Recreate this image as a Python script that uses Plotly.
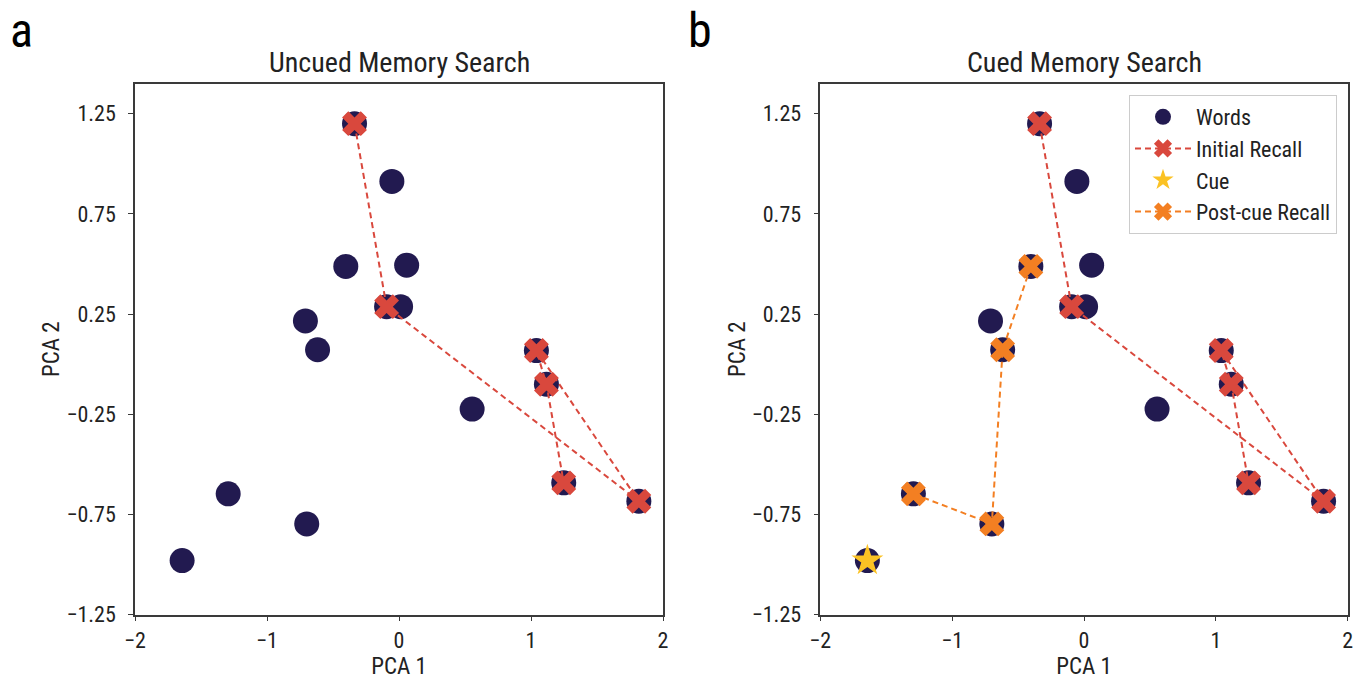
import plotly.graph_objects as go

# ---- data ----
words_x = [-0.337, -0.054, -0.403, 0.058, -0.094, 0.012, -0.709, -0.617,
           0.554, 1.041, 1.117, 1.248, 1.817, -1.294, -0.699, -1.643]
words_y = [1.200, 0.912, 0.488, 0.494, 0.287, 0.287, 0.216, 0.072,
           -0.224, 0.068, -0.100, -0.592, -0.684, -0.647, -0.797, -0.980]

initial_x = [-0.337, -0.094, 1.817, 1.041, 1.117, 1.248]
initial_y = [1.200, 0.287, -0.684, 0.068, -0.100, -0.592]

cue_x = [-1.643]
cue_y = [-0.980]

postcue_x = [-0.403, -0.617, -0.699, -1.294]
postcue_y = [0.488, 0.072, -0.797, -0.647]

x_ticks = [-2, -1, 0, 1, 2]
y_ticks = [-1.25, -0.75, -0.25, 0.25, 0.75, 1.25]

titles = ["Uncued Memory Search", "Cued Memory Search"]
panel_labels = ["a", "b"]

NAVY = "#221a50"
RED = "#d9483d"
ORANGE = "#f37f22"
YELLOW = "#fbc224"
FONT = "Liberation Sans Narrow, Roboto Condensed, Arial Narrow, Roboto, sans-serif"
TXT = "#222222"

fig = go.Figure()

def add_panel(xa, ya, cued, showlegend):
    fig.add_trace(go.Scatter(x=words_x, y=words_y, mode="markers", name="Words",
                             marker=dict(color=NAVY, size=25, line=dict(width=0)),
                             xaxis=xa, yaxis=ya, showlegend=showlegend))
    fig.add_trace(go.Scatter(x=initial_x, y=initial_y, mode="lines+markers", name="Initial Recall",
                             line=dict(color=RED, width=2, dash="6px,4px"),
                             marker=dict(symbol="x", color=RED, size=22, line=dict(width=0)),
                             xaxis=xa, yaxis=ya, showlegend=showlegend))
    if cued:
        fig.add_trace(go.Scatter(x=cue_x, y=cue_y, mode="markers", name="Cue",
                                 marker=dict(symbol="star", color=YELLOW, size=24, line=dict(width=0)),
                                 xaxis=xa, yaxis=ya, showlegend=showlegend))
        fig.add_trace(go.Scatter(x=postcue_x, y=postcue_y, mode="lines+markers", name="Post-cue Recall",
                                 line=dict(color=ORANGE, width=2, dash="6px,4px"),
                                 marker=dict(symbol="x", color=ORANGE, size=22, line=dict(width=0)),
                                 xaxis=xa, yaxis=ya, showlegend=showlegend))

add_panel("x", "y", False, False)
add_panel("x2", "y2", True, True)

ydom = [1 - 614.7 / 683, 1 - 83.6 / 683]
xdoms = [[135 / 1363, 663 / 1363], [820.3 / 1363, 1347.7 / 1363]]

axis_common = dict(showgrid=False, zeroline=False, showline=True, mirror=True,
                   automargin=False,
                   linecolor="#3a3a3a", linewidth=1.5, ticks="outside", ticklen=5,
                   tickwidth=1.2, tickcolor="#3a3a3a",
                   tickfont=dict(family=FONT, size=22, color=TXT))

layout = dict(
    template="none",
    width=1363, height=683, margin=dict(l=0, r=0, t=0, b=0),
    paper_bgcolor="white", plot_bgcolor="white",
    font=dict(family=FONT, color=TXT),
    legend=dict(x=1337 / 1363, y=1 - 95 / 683, xanchor="right", yanchor="top",
                bgcolor="white", bordercolor="#cccccc", borderwidth=1,
                itemwidth=56,
                font=dict(family=FONT, size=22, color=TXT), tracegroupgap=0),
)
for i, (xn, yn) in enumerate([("xaxis", "yaxis"), ("xaxis2", "yaxis2")]):
    anchor_x = "y" if i == 0 else "y2"
    anchor_y = "x" if i == 0 else "x2"
    layout[xn] = dict(axis_common, domain=xdoms[i], range=[-2, 2], tickvals=x_ticks,
                      anchor=anchor_x, ticklabelstandoff=0,
                      title=dict(text="PCA 1", font=dict(family=FONT, size=23, color=TXT), standoff=3))
    layout[yn] = dict(axis_common, domain=ydom, range=[-1.25, 1.40], tickvals=y_ticks,
                      tickformat=".2f", anchor=anchor_y, ticklabelstandoff=8,
                      title=dict(text="PCA 2", font=dict(family=FONT, size=23, color=TXT), standoff=0))
fig.update_layout(**layout)

annotations = []
for i in range(2):
    cx = (xdoms[i][0] + xdoms[i][1]) / 2
    annotations.append(dict(text=titles[i], x=cx, y=1 - 63 / 683, xref="paper", yref="paper",
                            xanchor="center", yanchor="middle", showarrow=False,
                            font=dict(family=FONT, size=28, color=TXT)))
annotations.append(dict(text=panel_labels[0], x=8 / 1363, y=1.0, xref="paper", yref="paper",
                        xanchor="left", yanchor="top", showarrow=False,
                        font=dict(family=FONT, size=48, color="black")))
annotations.append(dict(text=panel_labels[1], x=686 / 1363, y=1.0, xref="paper", yref="paper",
                        xanchor="left", yanchor="top", showarrow=False,
                        font=dict(family=FONT, size=48, color="black")))
fig.update_layout(annotations=annotations)

fig.write_html("out.html",
               post_script="document.body.style.margin='0';document.body.style.overflow='hidden';")
